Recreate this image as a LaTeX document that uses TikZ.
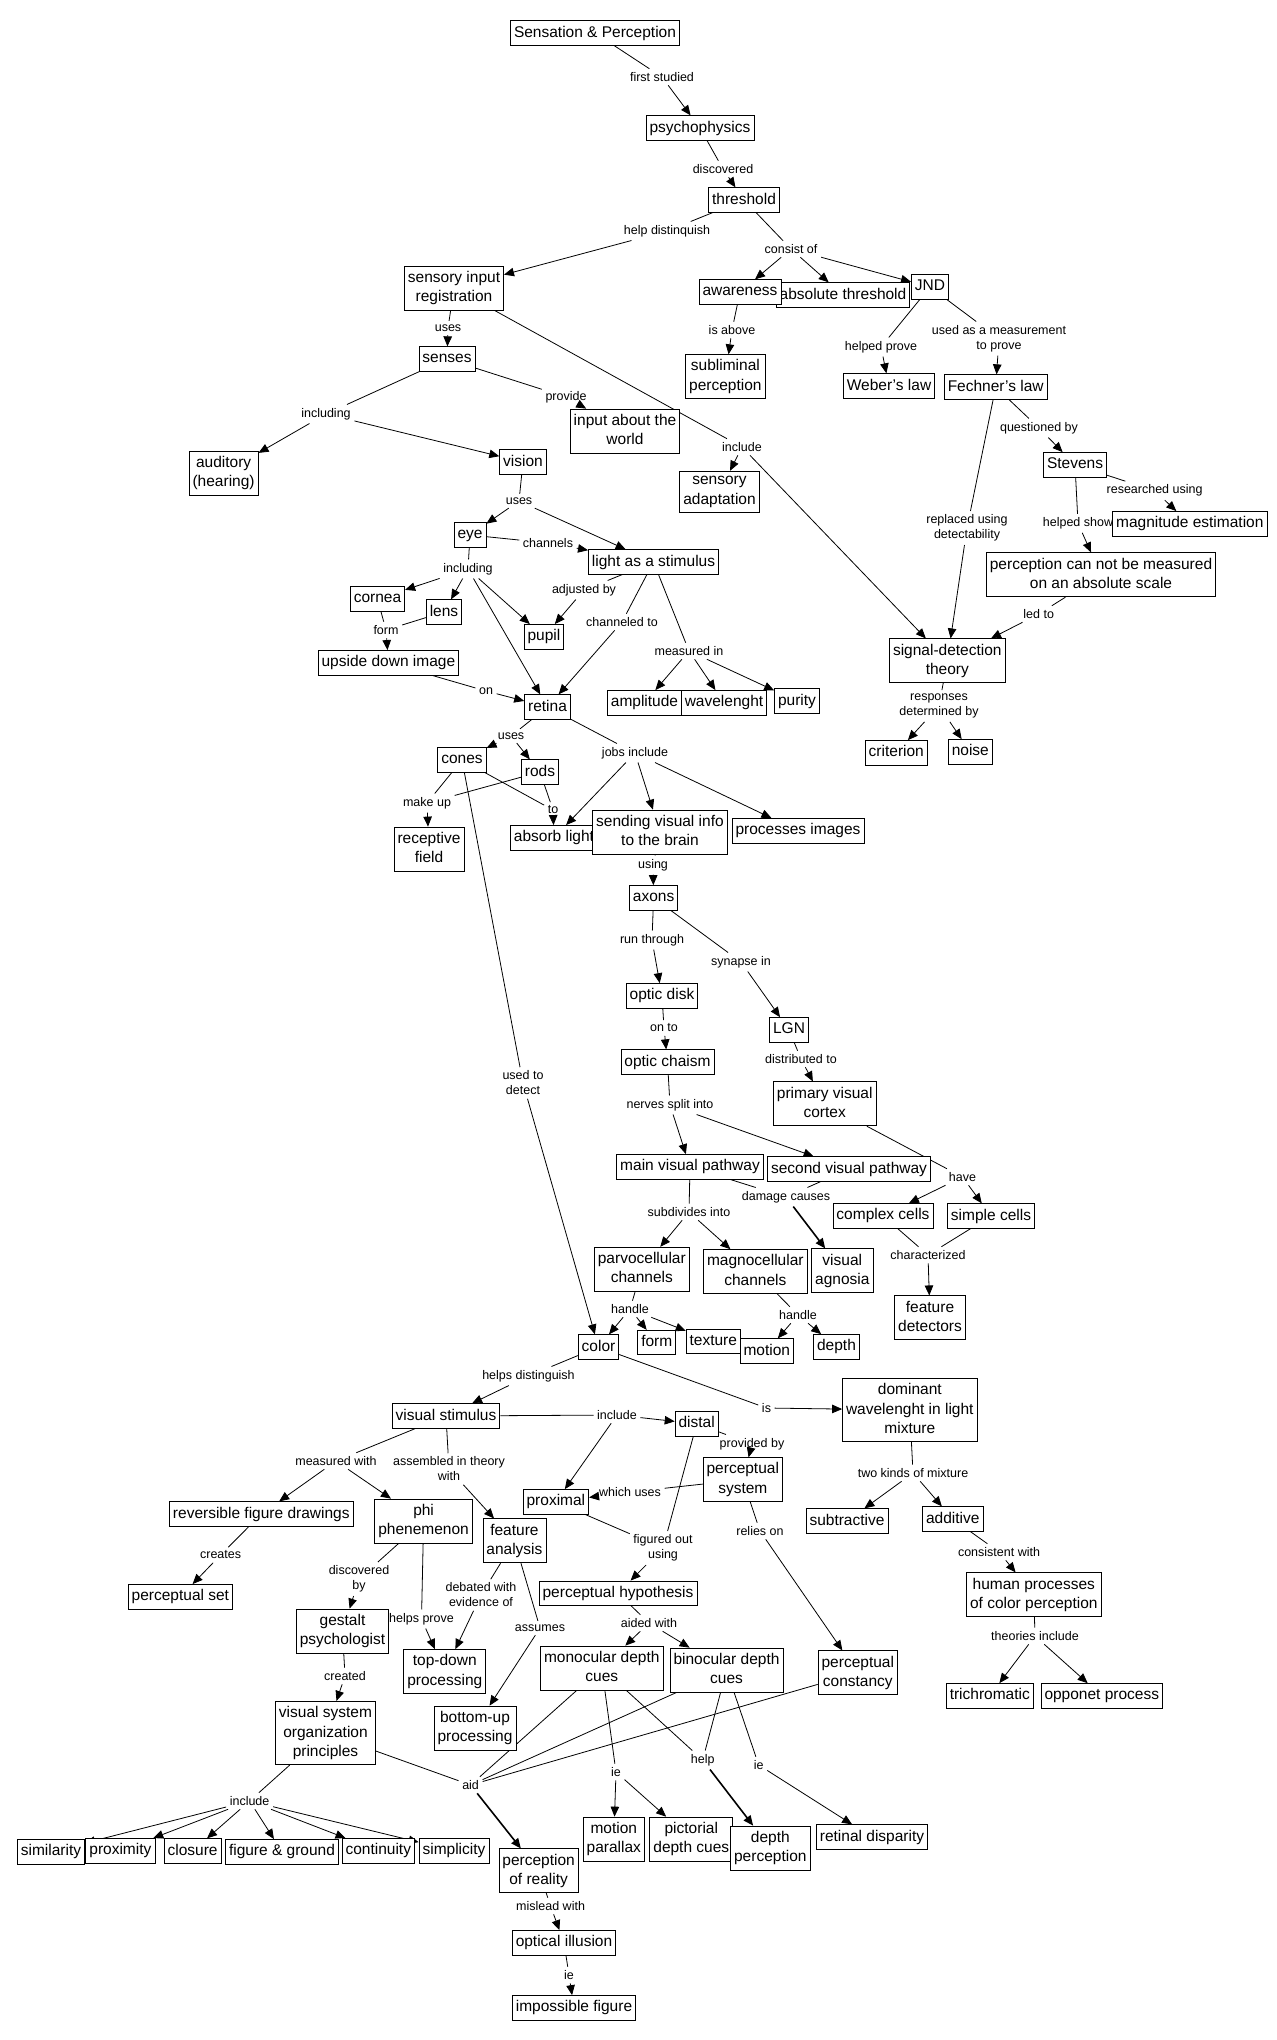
\documentclass[tikz,border=0pt]{standalone}
\usepackage{fontspec}
\setmainfont{Liberation Sans}
\usetikzlibrary{arrows.meta}
\pgfdeclarelayer{fondo}
\pgfsetlayers{fondo,main}

\begin{document}
\begin{tikzpicture}[x=1pt,y=-1pt,
    concepto/.style={draw, fill=white, line width=0.8pt, align=center,
      inner xsep=3.5pt, inner ysep=5pt, minimum height=24.5pt,
      font=\fontsize{15.5}{19.5}\selectfont, execute at begin node={\vphantom{Agy}}},
    enlace/.style={align=center, inner sep=3.5pt, font=\fontsize{12.5}{15}\selectfont},
    linea/.style={line width=0.8pt},
    flecha/.style={line width=0.8pt, -{Triangle[length=10pt,width=8.5pt]}},
    gruesa/.style={line width=1.6pt}]

  % Marco: mismo tamaño que la imagen original
  \useasboundingbox (0,0) rectangle (1277,2040);

  % Frases de enlace (primero, para que las cajas las tapen)
  \node[enlace] (l1)  at (662,77)     {first studied};
  \node[enlace] (l2)  at (723,169)    {discovered};
  \node[enlace] (l3)  at (667,231)    {help distinquish};
  \node[enlace] (l4)  at (791,249)    {consist of};
  \node[enlace] (l5)  at (732,330)    {is above};
  \node[enlace] (l6)  at (881,347)    {helped prove};
  \node[enlace] (l7)  at (999,338.5)  {used as a measurement\\to prove};
  \node[enlace] (l8)  at (448,328)    {uses};
  \node[enlace] (l9)  at (742,447)    {include};
  \node[enlace] (l10) at (326,414)    {including};
  \node[enlace] (l11) at (566,397)    {provide};
  \node[enlace] (l12) at (519,501)    {uses};
  \node[enlace] (l13) at (548,543)    {channels};
  \node[enlace] (l14) at (468,569)    {including};
  \node[enlace] (l15) at (584,590)    {adjusted by};
  \node[enlace] (l16) at (622,622)    {channeled to};
  \node[enlace] (l17) at (689,651)    {measured in};
  \node[enlace] (l18) at (386,630)    {form};
  \node[enlace] (l19) at (486,691)    {on};
  \node[enlace] (l20) at (511,736)    {uses};
  \node[enlace] (l21) at (635,753)    {jobs include};
  \node[enlace] (l22) at (427,803)    {make up};
  \node[enlace] (l23) at (553,810)    {to};
  \node[enlace] (l24) at (523,1083)   {used to\\detect};
  \node[enlace] (l25) at (653,865)    {using};
  \node[enlace] (l26) at (652,940)    {run through};
  \node[enlace] (l27) at (741,962)    {synapse in};
  \node[enlace] (l28) at (664,1028)   {on to};
  \node[enlace] (l29) at (801,1059)   {distributed to};
  \node[enlace] (l30) at (670,1105)   {nerves split into};
  \node[enlace] (l31) at (962.5,1177) {have};
  \node[enlace] (l32) at (786,1197)   {damage causes};
  \node[enlace] (l33) at (689,1212)   {subdivides into};
  \node[enlace] (l34) at (928,1255)   {characterized};
  \node[enlace] (l35) at (630,1309)   {handle};
  \node[enlace] (l36) at (798,1315)   {handle};
  \node[enlace] (l37) at (528.5,1376) {helps distinguish};
  \node[enlace] (l38) at (766.5,1408) {is};
  \node[enlace] (l39) at (617,1415)   {include};
  \node[enlace] (l40) at (752,1444)   {provided by};
  \node[enlace] (l41) at (630,1492)   {which uses};
  \node[enlace] (l42) at (913,1473)   {two kinds of mixture};
  \node[enlace] (l43) at (663,1548)   {figured out\\using};
  \node[enlace] (l44) at (760,1531)   {relies on};
  \node[enlace] (l45) at (999,1552)   {consistent with};
  \node[enlace] (l46) at (1035,1636)  {theories include};
  \node[enlace] (l47) at (336,1461)   {measured with};
  \node[enlace] (l48) at (449,1469)   {assembled in theory\\with};
  \node[enlace] (l49) at (220.6,1555) {creates};
  \node[enlace] (l50) at (359,1579)   {discovered\\by};
  \node[enlace] (l51) at (421.5,1619) {helps prove};
  \node[enlace] (l52) at (481,1595)   {debated with\\evidence of};
  \node[enlace] (l53) at (540,1628)   {assumes};
  \node[enlace] (l54) at (345,1676)   {created};
  \node[enlace] (l55) at (649,1623)   {aided with};
  \node[enlace] (l56) at (249.6,1801) {include};
  \node[enlace] (l57) at (470.6,1785) {aid};
  \node[enlace] (l58) at (616,1772)   {ie};
  \node[enlace] (l59) at (702.7,1760) {help};
  \node[enlace] (l60) at (758.7,1765) {ie};
  \node[enlace] (l61) at (550.6,1906) {mislead with};
  \node[enlace] (l62) at (569,1975)   {ie};
  \node[enlace] (l63) at (1039,428)   {questioned by};
  \node[enlace] (l64) at (967,528)    {replaced using\\detectability};
  \node[enlace] (l65) at (1154.6,490.7) {researched using};
  \node[enlace] (l66) at (1078,523.3) {helped show};
  \node[enlace] (l67) at (1038.7,614) {led to};
  \node[enlace] (l68) at (939,706)    {responses\\determined by};

  % Conceptos: parte de arriba
  \node[concepto] (sp)   at (595,33)      {Sensation \& Perception};
  \node[concepto] (psy)  at (700,128)     {psychophysics};
  \node[concepto] (thr)  at (744,200)     {threshold};
  \node[concepto] (sir)  at (454,288)     {sensory input\\registration};
  \node[concepto] (abs)  at (843,295)     {absolute threshold};
  \node[concepto] (awa)  at (740,292)     {awareness};
  \node[concepto] (jnd)  at (930,287)     {JND};
  \node[concepto] (sub)  at (725.4,376.7) {subliminal\\perception};
  \node[concepto] (web)  at (889,386)     {Weber's law};
  \node[concepto] (fech) at (995.7,387)   {Fechner's law};
  \node[concepto] (sen)  at (447,359)     {senses};
  \node[concepto] (inp)  at (625,431)     {input about the\\world};
  \node[concepto] (sad)  at (719.5,491.7) {sensory\\adaptation};
  \node[concepto] (aud)  at (223.6,473)   {auditory\\(hearing)};
  \node[concepto] (vis)  at (523,462)     {vision};
  \node[concepto] (stev) at (1075,464.8)  {Stevens};
  \node[concepto] (mag)  at (1189.8,523.7) {magnitude estimation};
  \node[concepto] (pcn)  at (1101,574.8)  {perception can not be measured\\on an absolute scale};
  \node[concepto] (sdt)  at (947.3,660.8) {signal-detection\\theory};
  \node[concepto] (crit) at (896.3,752.8) {criterion};
  \node[concepto] (noi)  at (970.3,751.8) {noise};

  % Conceptos: el ojo
  \node[concepto] (eye)  at (470,535)     {eye};
  \node[concepto] (las)  at (653.5,562)   {light as a stimulus};
  \node[concepto] (cor)  at (377.5,599)   {cornea};
  \node[concepto] (lens) at (444,612)     {lens};
  \node[concepto] (pup)  at (544,636.7)   {pupil};
  \node[concepto] (udi)  at (388.4,662.7) {upside down image};
  \node[concepto] (ret)  at (547.5,707)   {retina};
  \node[concepto] (amp)  at (644.5,702.7) {amplitude};
  \node[concepto] (wav)  at (724,702.7)   {wavelenght};
  \node[concepto] (pur)  at (797,701)     {purity};
  \node[concepto] (con)  at (462,760)     {cones};
  \node[concepto] (rod)  at (540,772)     {rods};
  \node[concepto] (rf)   at (429,849)     {receptive\\field};
  \node[concepto] (abl)  at (554,837.7)   {absorb light};
  \node[concepto] (svi)  at (660,832)     {sending visual info\\to the brain};
  \node[concepto] (pim)  at (798,830.7)   {processes images};

  % Conceptos: la vía visual
  \node[concepto] (axo)  at (653.6,897.8) {axons};
  \node[concepto] (od)   at (662,995.8)   {optic disk};
  \node[concepto] (lgn)  at (789,1029.8)  {LGN};
  \node[concepto] (oc)   at (667.5,1062)  {optic chaism};
  \node[concepto] (pvc)  at (824.7,1103.8) {primary visual\\cortex};
  \node[concepto] (mvp)  at (690,1166.8)  {main visual pathway};
  \node[concepto] (svp)  at (849,1169)    {second visual pathway};
  \node[concepto] (cc)   at (883,1215.8)  {complex cells};
  \node[concepto] (sc)   at (991,1216)    {simple cells};
  \node[concepto] (parv) at (641.8,1269.2) {parvocellular\\channels};
  \node[concepto] (magn) at (755.3,1271.5) {magnocellular\\channels};
  \node[concepto] (agn)  at (842.3,1270.8) {visual\\agnosia};
  \node[concepto] (fd)   at (930,1317.8)  {feature\\detectors};
  \node[concepto] (col)  at (598.5,1347)  {color};
  \node[concepto] (frm)  at (656.8,1342.5) {form};
  \node[concepto] (tex)  at (713.3,1341.5) {texture};
  \node[concepto] (mot)  at (766.8,1351)  {motion};
  \node[concepto] (dep)  at (836.5,1346.8) {depth};

  % Conceptos: percepción
  \node[concepto] (dom)  at (909.8,1410)  {dominant\\wavelenght in light\\mixture};
  \node[concepto] (vs)   at (446,1416)    {visual stimulus};
  \node[concepto] (dis)  at (696.7,1423.8) {distal};
  \node[concepto] (ps)   at (742.8,1479.7) {perceptual\\system};
  \node[concepto] (prox) at (555.9,1501.8) {proximal};
  \node[concepto] (subt) at (847,1521)    {subtractive};
  \node[concepto] (add)  at (952.8,1519)  {additive};
  \node[concepto] (rfd)  at (261.3,1514)  {reversible figure drawings};
  \node[concepto] (phi)  at (423.6,1521)  {phi\\phenemenon};
  \node[concepto] (fa)   at (514.4,1540.8) {feature\\analysis};
  \node[concepto] (hum)  at (1033.8,1594.8) {human processes\\of color perception};
  \node[concepto] (pset) at (180.4,1596.7) {perceptual set};
  \node[concepto] (ph)   at (618,1593.2)  {perceptual hypothesis};
  \node[concepto] (gp)   at (342.5,1631)  {gestalt\\psychologist};
  \node[concepto] (td)   at (444.8,1671.5) {top-down\\processing};
  \node[concepto] (mdc)  at (601.8,1668)  {monocular depth\\cues};
  \node[concepto] (bdc)  at (726.5,1670)  {binocular depth\\cues};
  \node[concepto] (pc)   at (857.8,1672.8) {perceptual\\constancy};
  \node[concepto] (tri)  at (989.8,1695.8) {trichromatic};
  \node[concepto] (opp)  at (1101.8,1695.8) {opponet process};
  \node[concepto] (vsop) at (325.5,1733)  {visual system\\organization\\principles};
  \node[concepto] (bu)   at (475,1728)    {bottom-up\\processing};
  \node[concepto] (mp)   at (613.8,1839)  {motion\\parallax};
  \node[concepto] (pdc)  at (691.3,1839)  {pictorial\\depth cues};
  \node[concepto] (dp)   at (770.3,1848)  {depth\\perception};
  \node[concepto] (rd)   at (872,1837)    {retinal disparity};
  \node[concepto] (simi) at (51,1851.7)   {similarity};
  \node[concepto] (proxi) at (120.4,1850.7) {proximity};
  \node[concepto] (clo)  at (192.6,1851)  {closure};
  \node[concepto] (fg)   at (282,1851.7)  {figure \& ground};
  \node[concepto] (cont) at (378.3,1850.7) {continuity};
  \node[concepto] (simp) at (454,1850.7)  {simplicity};
  \node[concepto] (por)  at (538.6,1870.8) {perception\\of reality};
  \node[concepto] (oi)   at (564,1942.8)  {optical illusion};
  \node[concepto] (imp)  at (574,2007.8)  {impossible figure};

  \begin{pgfonlayer}{fondo}
    % Tramos sin punta: concepto -> frase
    \foreach \a/\b in {sp/l1, psy/l2, thr/l3, thr/l4, awa/l5, jnd/l6, jnd/l7,
        sir/l8, sir/l9, sen/l10, sen/l11, vis/l12, eye/l13, eye/l14, las/l15,
        las/l16, las/l17, cor/l18, lens/l18, udi/l19, ret/l20, ret/l21,
        con/l22, rod/l22, con/l23, rod/l23, con/l24, svi/l25, axo/l26, axo/l27,
        od/l28, lgn/l29, oc/l30, pvc/l31, mvp/l32, svp/l32, mvp/l33, cc/l34,
        sc/l34, parv/l35, magn/l36, col/l37, col/l38, vs/l39, dis/l40, ps/l41,
        dom/l42, prox/l43, dis/l43, ps/l44, add/l45, hum/l46, vs/l47, vs/l48,
        rfd/l49, phi/l50, phi/l51, fa/l52, fa/l53, gp/l54, ph/l55, vsop/l56,
        vsop/l57, mdc/l57, bdc/l57, pc/l57, mdc/l58, mdc/l59, bdc/l59, bdc/l60,
        por/l61, oi/l62, fech/l63, fech/l64, stev/l65, stev/l66, pcn/l67, sdt/l68}
      \draw[linea] (\a) -- (\b);

    % Tramos con punta: frase -> concepto
    \foreach \a/\b in {l1/psy, l2/thr, l3/sir, l4/awa, l4/abs, l4/jnd, l5/sub,
        l6/web, l7/fech, l8/sen, l9/sad, l9/sdt, l10/aud, l10/vis, l11/inp,
        l12/eye, l12/las, l13/las, l14/cor, l14/lens, l14/pup, l14/ret, l15/pup,
        l16/ret, l17/amp, l17/wav, l17/pur, l18/udi, l19/ret, l20/con, l20/rod,
        l21/abl, l21/svi, l21/pim, l22/rf, l23/abl, l24/col, l25/axo, l26/od,
        l27/lgn, l28/oc, l29/pvc, l30/mvp, l30/svp, l31/cc, l31/sc, l33/parv,
        l33/magn, l34/fd, l35/col, l35/frm, l35/tex, l36/mot, l36/dep, l37/vs,
        l38/dom, l39/dis, l39/prox, l40/ps, l41/prox, l42/subt, l42/add, l43/ph,
        l44/pc, l45/hum, l46/tri, l46/opp, l47/rfd, l47/phi, l48/fa, l49/pset,
        l50/gp, l51/td, l52/td, l53/bu, l54/vsop, l55/mdc, l55/bdc, l56/simi,
        l56/proxi, l56/clo, l56/fg, l56/cont, l56/simp, l58/mp, l58/pdc,
        l60/rd, l61/oi, l62/imp, l63/stev, l64/sdt, l65/mag, l66/pcn, l67/sdt,
        l68/crit, l68/noi}
      \draw[flecha] (\a) -- (\b);

    % Las tres flechas gruesas
    \draw[flecha,gruesa] (l32) -- (agn);
    \draw[flecha,gruesa] (l57) -- (por);
    \draw[flecha,gruesa] (l59) -- (dp);
  \end{pgfonlayer}
\end{tikzpicture}
\end{document}
